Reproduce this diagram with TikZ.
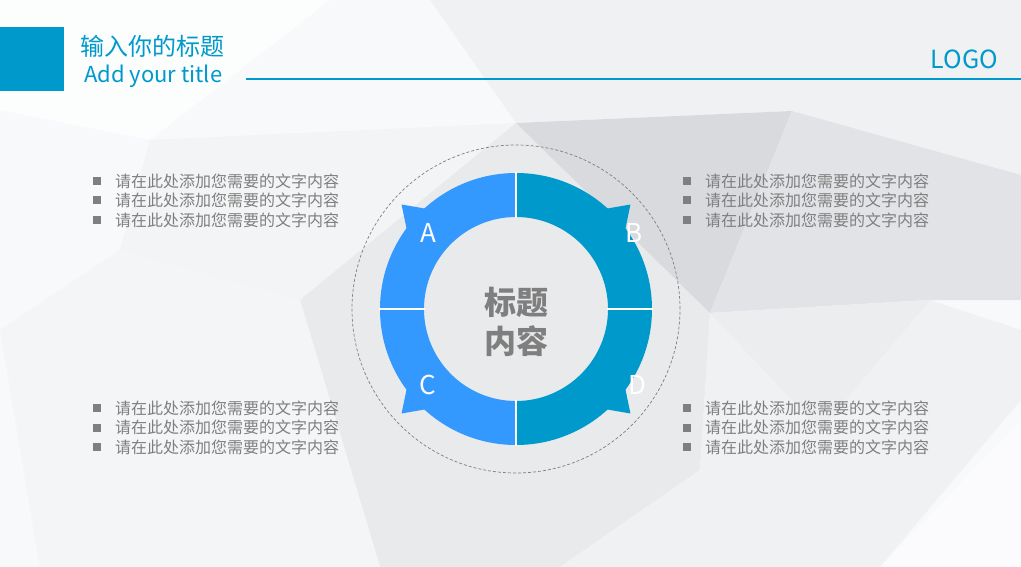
\documentclass[tikz,border=0pt]{standalone}
\usepackage{fontspec}
\setmainfont{Noto Sans CJK SC}
\newfontfamily\cjk{Noto Sans CJK SC}
\definecolor{tblue}{RGB}{0,153,204}
\definecolor{lblue}{RGB}{51,153,255}
\definecolor{rblue}{RGB}{0,153,204}
\definecolor{tgray}{RGB}{127,127,127}
\definecolor{bg0}{RGB}{248,249,251}
\definecolor{bg1}{RGB}{240,241,243}
\definecolor{bg2}{RGB}{233,234,236}
\definecolor{bg3}{RGB}{226,227,230}
\definecolor{bg4}{RGB}{217,218,222}
\tikzset{
  bullettext/.style={anchor=west, text=tgray, font=\cjk\fontsize{16}{19}\selectfont, inner sep=0pt},
  bulletsq/.style={fill=tgray, minimum size=8pt, inner sep=0pt},
  ringletter/.style={text=white, font=\fontsize{26}{28}\selectfont, inner sep=0pt},
  sep/.style={draw=white, line width=2pt}
}
\begin{document}
\begin{tikzpicture}[x=1pt,y=1pt]
\useasboundingbox (0,0) rectangle (1021,-567);
% background facets
\fill[bg0] (0,0) rectangle (1021,-567);
\fill[bg1] (430,0) -- (1021,0) -- (1021,-175) -- (792,-111) -- (516,-123) -- cycle;
\fill[bg1!70!bg0] (150,-140) -- (516,-123) -- (380,-330) -- (120,-250) -- cycle;
\fill[bg2] (516,-123) -- (710,-313) -- (700,-470) -- (560,-567) -- (380,-567) -- (300,-300) -- cycle;
\fill[bg4] (516,-123) -- (792,-111) -- (710,-313) -- cycle;
\fill[bg3] (792,-111) -- (1021,-175) -- (1021,-300) -- (930,-300) -- (710,-313) -- cycle;
\fill[bg1] (710,-313) -- (930,-300) -- (1021,-330) -- (1021,-400) -- (880,-567) -- (560,-567) -- (700,-470) -- cycle;
\fill[bg2!60!bg1] (710,-313) -- (930,-300) -- (820,-430) -- cycle;
\fill[bg1!50!bg0] (0,-330) -- (120,-250) -- (300,-300) -- (380,-567) -- (40,-567) -- cycle;
\fill[bg0!60!white] (880,-567) -- (1021,-420) -- (1021,-567) -- cycle;
\fill[bg0!40!white] (0,0) -- (330,0) -- (150,-140) -- (0,-110) -- cycle;
% header
\fill[tblue] (0,-27) rectangle (64,-91);
\node[anchor=west, inner sep=0pt, text=tblue, font=\fontsize{24}{26}\selectfont] (title) at (80,-46) {输入你的标题};
\node[anchor=west, inner sep=0pt, text=tblue, font=\fontsize{22}{24}\selectfont] (subtitle) at (84,-76) {Add your title};
\coordinate (hl) at (246,-79);
\coordinate (hr) at (1021,-79);
\draw[tblue, line width=1.1pt] (hl) -- (hr);
\node[anchor=east, inner sep=0pt, text=tblue, font=\fontsize{25}{27}\selectfont] (logo) at (998,-59) {LOGO};
% ring
\coordinate (c) at (516,-309);
\draw[tgray, line width=0.7pt, dash pattern=on 3pt off 2pt] (c) circle[radius=164];
\begin{scope}[shift={(516,-309)}]
  \fill[bg2] (0,0) circle[radius=92];
  \fill[lblue] (90:136) arc[start angle=90,end angle=180,radius=136] -- (180:92) arc[start angle=180,end angle=90,radius=92] -- cycle;
  \fill[lblue] (180:136) arc[start angle=180,end angle=270,radius=136] -- (270:92) arc[start angle=270,end angle=180,radius=92] -- cycle;
  \fill[rblue] (0:136) arc[start angle=0,end angle=90,radius=136] -- (90:92) arc[start angle=90,end angle=0,radius=92] -- cycle;
  \fill[rblue] (-90:136) arc[start angle=-90,end angle=0,radius=136] -- (0:92) arc[start angle=0,end angle=-90,radius=92] -- cycle;
  % arrow tips
  \fill[lblue] (132:135) -- (137.6:155) -- (144:135) -- cycle;
  \fill[lblue] (-132:135) -- (-137.6:155) -- (-144:135) -- cycle;
  \fill[rblue] (48:135) -- (42.4:155) -- (36:135) -- cycle;
  \fill[rblue] (-48:135) -- (-42.4:155) -- (-36:135) -- cycle;
  % separators
  \draw[sep] (90:91) -- (90:137);
  \draw[sep] (-90:91) -- (-90:137);
  \draw[sep] (180:91) -- (180:137);
  \draw[sep] (0:91) -- (0:137);
\end{scope}
\node[ringletter] (A) at (428,-233) {A};
\node[ringletter] (B) at (634,-233) {B};
\node[ringletter] (C) at (428,-385) {C};
\node[ringletter] (D) at (637,-385) {D};
\node[text=tgray, font=\cjk\bfseries\fontsize{32}{39}\selectfont, align=center, inner sep=0pt] (center) at (516,-322) {标题\\内容};
% bullets
\foreach \bx/\by/\nm in {97/181/la, 97/408/lb, 687/181/ra, 687/408/rb}{
  \foreach \i in {0,1,2}{
    \node[bulletsq] (\nm sq\i) at (\bx,{-\by-19.5*\i}) {};
    \node[bullettext] (\nm tx\i) at ({\bx+18},{-\by-19.5*\i}) {请在此处添加您需要的文字内容};
  }
}
\end{tikzpicture}
\end{document}
